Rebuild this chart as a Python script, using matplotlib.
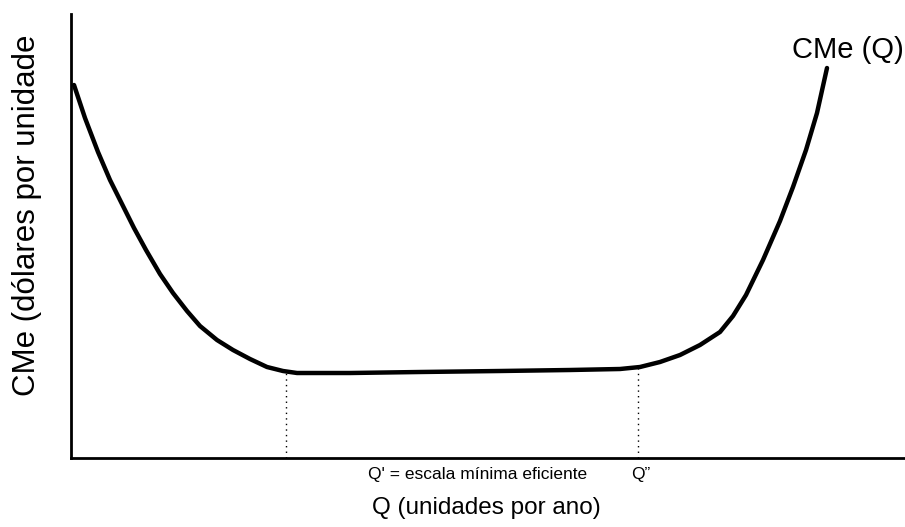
import matplotlib
matplotlib.use("Agg")
import matplotlib.pyplot as plt

# Curve (Q in arbitrary units, CMe in arbitrary units)
q_vals = [3, 14, 27, 39, 51, 63, 75, 89, 102, 116, 129, 146, 162, 179, 196, 212, 226,
          279, 349, 429, 499, 549, 569, 589, 609, 629, 649, 662, 675, 692, 709, 722,
          735, 746, 756]
cme_vals = [373, 340, 306, 278, 254, 230, 208, 184, 165, 147, 132, 118, 108, 99, 91, 87, 85,
            85, 86, 87, 88, 89, 91, 96, 103, 113, 126, 142, 163, 198, 237, 271,
            308, 345, 390]
q_min_eff = 215
q_dbl = 567
cme_at_qmin = 86
cme_at_qdbl = 91

W, H = 905, 527
fig = plt.figure(figsize=(W / 100, H / 100), dpi=100)
ax_left, ax_bottom, ax_top, ax_right = 71, 458, 14, 905
ax = fig.add_axes([ax_left / W, 1 - ax_bottom / H, (ax_right - ax_left) / W, (ax_bottom - ax_top) / H])
ax.set_xlim(0, ax_right - ax_left)
ax.set_ylim(0, ax_bottom - ax_top)

ax.plot(q_vals, cme_vals, color="black", lw=3.2, solid_capstyle="round", solid_joinstyle="round")
ax.plot([q_min_eff, q_min_eff], [0, cme_at_qmin], color="black", lw=1.0, ls=(0, (1, 3)))
ax.plot([q_dbl, q_dbl], [0, cme_at_qdbl], color="black", lw=1.0, ls=(0, (1, 3)))

for s in ["top", "right"]:
    ax.spines[s].set_visible(False)
ax.spines["left"].set_linewidth(2.0)
ax.spines["bottom"].set_linewidth(2.0)
ax.set_xticks([])
ax.set_yticks([])

fam = ["Liberation Sans", "DejaVu Sans"]

fig.text(27 / W, 1 - 215 / H, "CMe (dólares por unidade", rotation=90, ha="center", va="center",
         fontsize=22.5, family=fam)
fig.text(486 / W, 1 - 508 / H, "Q (unidades por ano)", ha="center", va="center",
         fontsize=17.5, family=fam)
fig.text(368 / W, 1 - 475 / H, "Q' = escala mínima eficiente", ha="left", va="center",
         fontsize=12.5, family=fam)
fig.text(641 / W, 1 - 475 / H, "Q\u201d", ha="center", va="center",
         fontsize=12.5, family=fam)
fig.text(792 / W, 1 - 50 / H, "CMe (Q)", ha="left", va="center",
         fontsize=21, family=fam)

fig.savefig("out.png", dpi=100, facecolor="white")
